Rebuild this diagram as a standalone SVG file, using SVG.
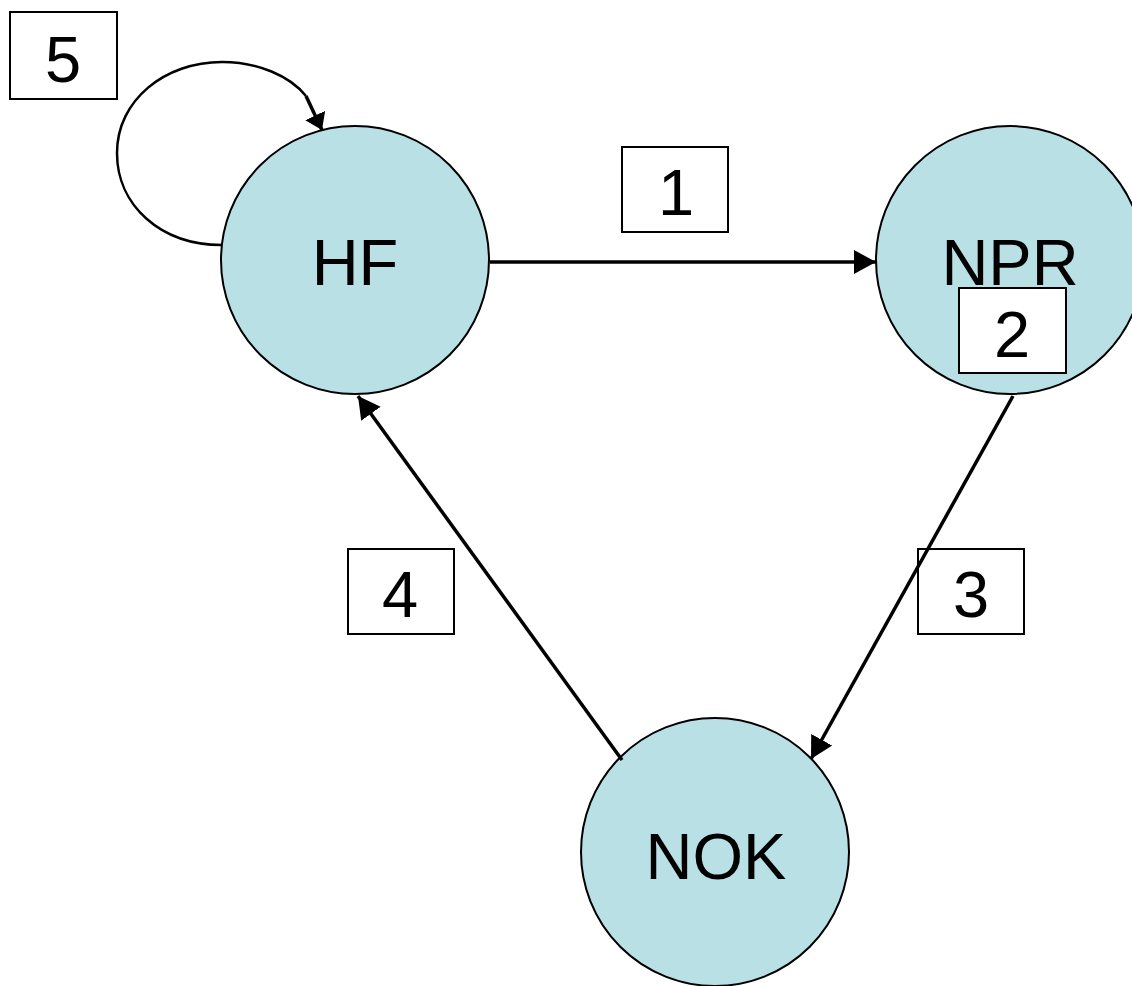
<svg xmlns="http://www.w3.org/2000/svg" width="1132" height="986" viewBox="0 0 1132 986">
<style>
.node circle{fill:#B9E0E4;stroke:#000;stroke-width:2}
.lbl{font-family:"Liberation Sans",Arial,sans-serif;font-size:65px;fill:#000;text-anchor:middle}
.box rect{fill:#fff;stroke:#000;stroke-width:2}
.edge{fill:none;stroke:#000;stroke-width:3.5}
</style>
<defs>
<marker id="arr" markerUnits="userSpaceOnUse" markerWidth="24" markerHeight="26" refX="22" refY="12" orient="auto" viewBox="0 0 24 24">
<path d="M0,0 L22,12 L0,24 Z" fill="#000"/>
</marker>
<marker id="arrs" markerUnits="userSpaceOnUse" markerWidth="18" markerHeight="24" refX="16" refY="11" orient="auto" viewBox="0 0 18 22">
<path d="M0,0 L16,11 L0,22 Z" fill="#000"/>
</marker>
</defs>
<g id="node-HF" class="node"><circle cx="355" cy="260" r="134"/><text class="lbl" x="355" y="285">HF</text></g>
<g id="node-NPR" class="node"><circle cx="1010" cy="260" r="134"/><text class="lbl" x="1010" y="285">NPR</text></g>
<g id="node-NOK" class="node"><circle cx="715" cy="852" r="134"/><text class="lbl" x="716" y="879">NOK</text></g>
<g id="labels">
<g id="label-5" class="box"><rect x="10" y="12" width="107" height="87"/><text class="lbl" x="63" y="82">5</text></g>
<g id="label-1" class="box"><rect x="622" y="147" width="106" height="85"/><text class="lbl" x="676" y="215">1</text></g>
<g id="label-2" class="box"><rect x="959" y="288" width="107" height="85"/><text class="lbl" x="1012" y="357">2</text></g>
<g id="label-4" class="box"><rect x="348" y="549" width="106" height="85"/><text class="lbl" x="400" y="617">4</text></g>
<g id="label-3" class="box"><rect x="918" y="549" width="106" height="85"/><text class="lbl" x="971" y="617">3</text></g>
</g>
<g id="connectors">
<path class="edge" d="M490,262 L876,262" marker-end="url(#arr)"/>
<path class="edge" d="M1013,396 L811,759" marker-end="url(#arr)"/>
<path class="edge" d="M622,760 L358,396" marker-end="url(#arr)"/>
<path class="edge" style="stroke-width:2.5" d="M222,245 C160,245 117,205 117,153 C117,100 165,62 222,62 C258,62 290,76 306,96"/>
<path class="edge" d="M306,96 L322,130" marker-end="url(#arrs)"/>
</g>
</svg>
